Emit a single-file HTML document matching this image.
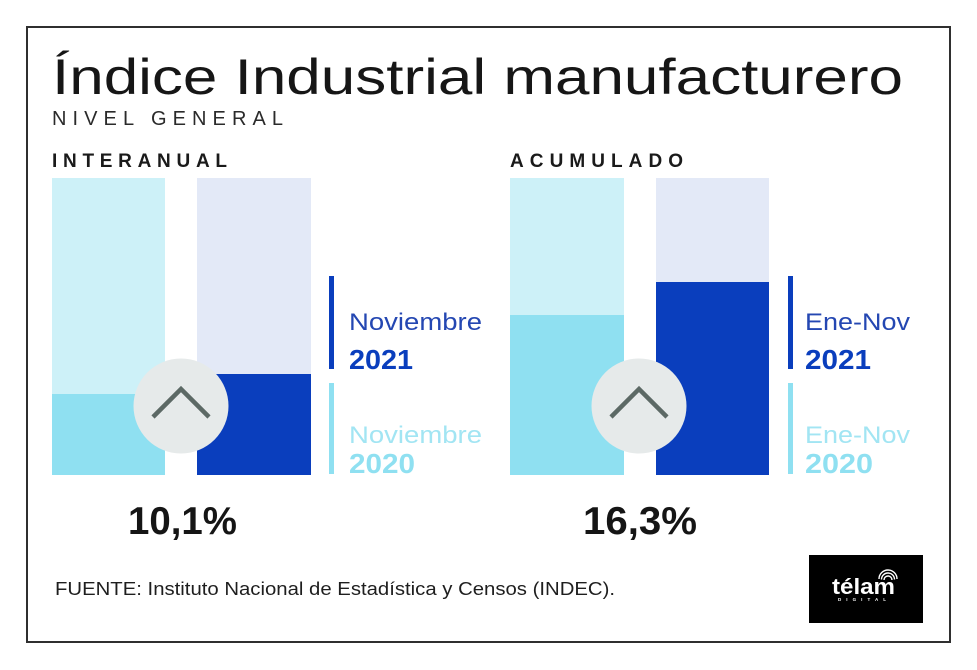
<!DOCTYPE html>
<html>
<head>
<meta charset="utf-8">
<style>
html,body{margin:0;padding:0;background:#fff;}
svg{display:block;}
text{font-family:"Liberation Sans",sans-serif;}
</style>
</head>
<body>
<svg width="977" height="670" viewBox="0 0 977 670" xmlns="http://www.w3.org/2000/svg">
  <rect x="0" y="0" width="977" height="670" fill="#ffffff"/>
  <rect x="27" y="27" width="923" height="615" fill="#ffffff" stroke="#2f2f2f" stroke-width="2"/>

  <!-- Title -->
  <text x="52" y="94" font-size="50" fill="#161616" textLength="851" lengthAdjust="spacingAndGlyphs">Índice Industrial manufacturero</text>
  <text x="52" y="125" font-size="20" fill="#2a2a2a" textLength="231" lengthAdjust="spacing">NIVEL GENERAL</text>

  <!-- Section headers -->
  <text x="52" y="167" font-size="19" font-weight="bold" fill="#1a1a1a" textLength="175" lengthAdjust="spacing">INTERANUAL</text>
  <text x="510" y="167" font-size="19" font-weight="bold" fill="#1a1a1a" textLength="173" lengthAdjust="spacing">ACUMULADO</text>

  <!-- Left chart -->
  <rect x="52" y="178" width="113" height="297" fill="#cdf1f8"/>
  <rect x="52" y="394" width="113" height="81" fill="#8fe0f1"/>
  <rect x="197" y="178" width="114" height="297" fill="#e3e9f7"/>
  <rect x="197" y="374" width="114" height="101" fill="#0a3ebd"/>
  <circle cx="181" cy="406" r="47.5" fill="#e6eaea"/>
  <polyline points="153,417 181,389 209,417" fill="none" stroke="#5c6965" stroke-width="4.5"/>

  <rect x="329" y="276" width="5" height="93" fill="#0a3ebd"/>
  <text x="349" y="330" font-size="24" fill="#2447b2" textLength="133" lengthAdjust="spacingAndGlyphs">Noviembre</text>
  <text x="349" y="369" font-size="28" font-weight="bold" fill="#0a3ebd" textLength="64" lengthAdjust="spacingAndGlyphs">2021</text>
  <rect x="329" y="383" width="5" height="91" fill="#8fe0f1"/>
  <text x="349" y="443" font-size="24" fill="#a2e5f3" textLength="133" lengthAdjust="spacingAndGlyphs">Noviembre</text>
  <text x="349" y="473" font-size="28" font-weight="bold" fill="#8fe0f1" textLength="66" lengthAdjust="spacingAndGlyphs">2020</text>

  <!-- Right chart -->
  <rect x="510" y="178" width="114" height="297" fill="#cdf1f8"/>
  <rect x="510" y="315" width="114" height="160" fill="#8fe0f1"/>
  <rect x="656" y="178" width="113" height="297" fill="#e3e9f7"/>
  <rect x="656" y="282" width="113" height="193" fill="#0a3ebd"/>
  <circle cx="639" cy="406" r="47.5" fill="#e6eaea"/>
  <polyline points="611,417 639,389 667,417" fill="none" stroke="#5c6965" stroke-width="4.5"/>

  <rect x="788" y="276" width="5" height="93" fill="#0a3ebd"/>
  <text x="805" y="330" font-size="24" fill="#2447b2" textLength="105" lengthAdjust="spacingAndGlyphs">Ene-Nov</text>
  <text x="805" y="369" font-size="28" font-weight="bold" fill="#0a3ebd" textLength="66" lengthAdjust="spacingAndGlyphs">2021</text>
  <rect x="788" y="383" width="5" height="91" fill="#8fe0f1"/>
  <text x="805" y="443" font-size="24" fill="#a2e5f3" textLength="105" lengthAdjust="spacingAndGlyphs">Ene-Nov</text>
  <text x="805" y="473" font-size="28" font-weight="bold" fill="#8fe0f1" textLength="68" lengthAdjust="spacingAndGlyphs">2020</text>

  <!-- Percentages -->
  <text x="128" y="534" font-size="39" font-weight="bold" fill="#151515" textLength="109" lengthAdjust="spacingAndGlyphs">10,1%</text>
  <text x="583" y="534" font-size="39" font-weight="bold" fill="#151515" textLength="114" lengthAdjust="spacingAndGlyphs">16,3%</text>

  <!-- Source -->
  <text x="55" y="595" font-size="18" fill="#1e1e1e" textLength="560" lengthAdjust="spacingAndGlyphs">FUENTE: Instituto Nacional de Estadística y Censos (INDEC).</text>

  <!-- Logo -->
  <rect x="809" y="555" width="114" height="68" fill="#000"/>
  <text x="832" y="594" font-size="22" font-weight="bold" fill="#fff" textLength="63" lengthAdjust="spacingAndGlyphs">télam</text>
  <text x="838" y="601" font-size="4.5" font-weight="bold" fill="#fff" textLength="48" lengthAdjust="spacing">DIGITAL</text>
  <g fill="none" stroke="#fff" stroke-width="1.4">
    <path d="M884,580 a4,4 0 0 1 8,0"/>
    <path d="M881.5,579.5 a6.5,6.5 0 0 1 13,0"/>
    <path d="M879,579 a9,9 0 0 1 18,0"/>
  </g>
</svg>
</body>
</html>
